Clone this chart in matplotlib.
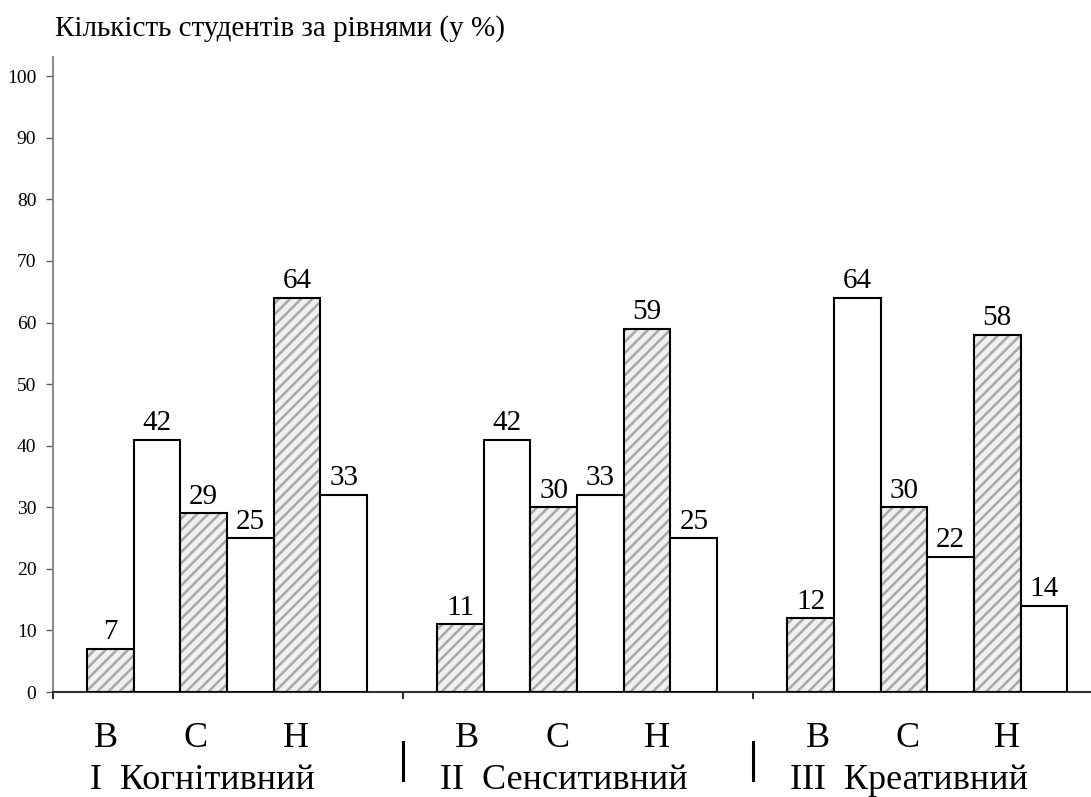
"""Bar chart: number of students by level (in %) for three components."""
import matplotlib
matplotlib.use("Agg")
import matplotlib.pyplot as plt

plt.rcParams["font.family"] = ["Liberation Serif", "DejaVu Serif"]
plt.rcParams["hatch.linewidth"] = 1.8

TITLE = "Кількість студентів за рівнями (у %)"
LEVELS = ["В", "С", "Н"]
COMPONENTS = ["I  Когнітивний", "II  Сенситивний", "III  Креативний"]

# bar heights as drawn and the numbers printed above them
HATCHED = [[7, 29, 64], [11, 30, 59], [12, 30, 58]]
HATCHED_LABELS = [["7", "29", "64"], ["11", "30", "59"], ["12", "30", "58"]]
PLAIN = [[41, 25, 32], [41, 32, 25], [64, 22, 14]]
PLAIN_LABELS = [["42", "25", "33"], ["42", "33", "25"], ["64", "22", "14"]]

YTICKS = list(range(0, 101, 10))

GROUP_W = 7.5
BAR_OFF = 0.73
LETTER_X = [1.38, 3.31, 5.45]
LETTER_SHIFT = [-0.25, 0.0, 0.0]
GROUP_LABEL_X = 0.8


def main() -> None:
    fig = plt.figure(figsize=(10.91, 7.97), dpi=100)
    ax = fig.add_axes([0.0486, 0.1317, 0.9514, 0.7967])

    for g in range(len(COMPONENTS)):
        x0 = g * GROUP_W + BAR_OFF
        for k in range(len(LEVELS)):
            xh = x0 + 2 * k
            xp = xh + 1
            # hatch drawn in gray, outline drawn on top in black
            ax.bar(xh, HATCHED[g][k], width=1, align="edge",
                   facecolor="#f0f0f0", edgecolor="#a8a8a8", linewidth=0,
                   hatch="///", zorder=3)
            ax.bar(xh, HATCHED[g][k], width=1, align="edge",
                   facecolor="none", edgecolor="black", linewidth=1.5,
                   zorder=4)
            ax.bar(xp, PLAIN[g][k], width=1, align="edge",
                   facecolor="white", edgecolor="black", linewidth=1.5,
                   zorder=4)
            ax.annotate(HATCHED_LABELS[g][k], (xh + 0.5, HATCHED[g][k]),
                        xytext=(0, 2.5), textcoords="offset points",
                        ha="center", va="bottom", fontsize=21)
            ax.annotate(PLAIN_LABELS[g][k], (xp + 0.5, PLAIN[g][k]),
                        xytext=(0, 2.5), textcoords="offset points",
                        ha="center", va="bottom", fontsize=21)
            ax.text(g * GROUP_W + LETTER_X[k] + LETTER_SHIFT[g], -8.9,
                    LEVELS[k], ha="center", va="baseline", fontsize=26)
        ax.text(g * GROUP_W + GROUP_LABEL_X, -15.8, COMPONENTS[g],
                ha="left", va="baseline", fontsize=26)
        if g > 0:
            ax.plot([g * GROUP_W, g * GROUP_W], [-8.1, -14.3],
                    color="black", linewidth=2.2, clip_on=False)

    ax.set_xlim(0, 22.24)
    ax.set_ylim(0, 103.1)
    ax.set_yticks(YTICKS)
    ax.set_xticks([0, GROUP_W, 2 * GROUP_W])
    ax.set_xticklabels([])
    ax.tick_params(axis="y", direction="out", length=5, width=1,
                   color="#606060", labelsize=14, pad=7)
    ax.tick_params(axis="x", direction="out", length=5, width=1.5,
                   color="#303030")

    for side in ("top", "right"):
        ax.spines[side].set_visible(False)
    ax.spines["left"].set_color("#808080")
    ax.spines["left"].set_linewidth(1.3)
    ax.spines["bottom"].set_color("#303030")
    ax.spines["bottom"].set_linewidth(1.5)

    fig.text(55 / 1091, 1 - 29 / 797, TITLE, ha="left", va="center",
             fontsize=21)

    fig.savefig("out.png", dpi=100)


if __name__ == "__main__":
    main()
